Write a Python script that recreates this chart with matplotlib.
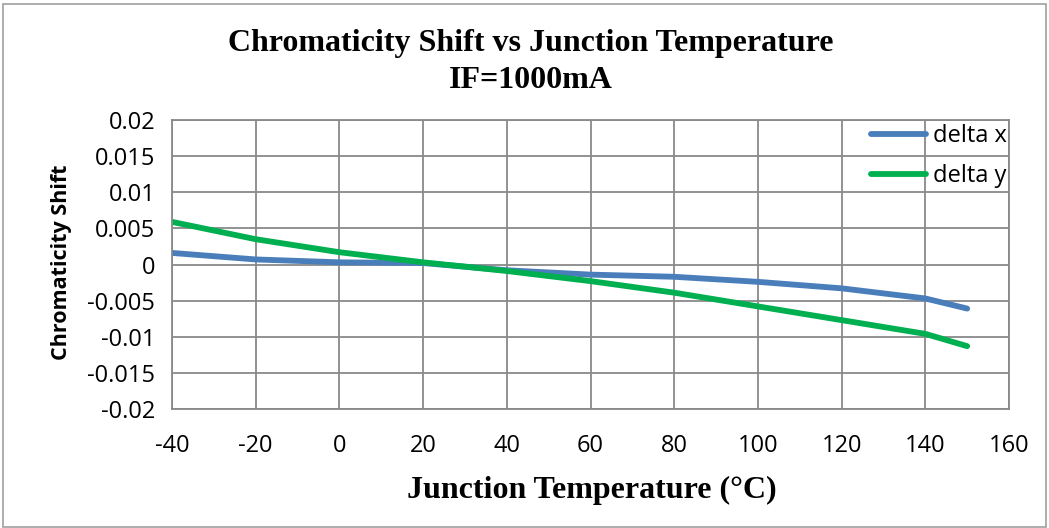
import matplotlib
matplotlib.use('Agg')
import matplotlib.pyplot as plt
from matplotlib.patches import Rectangle

plt.rcParams['axes.unicode_minus'] = False

# Junction temperature (°C) and chromaticity shift
temp = [-40, -20, 0, 20, 40, 60, 80, 100, 120, 140, 150]
delta_x = [0.0016, 0.0007, 0.0003, 0.0002, -0.0008, -0.0014, -0.0017, -0.0024, -0.0033, -0.0047, -0.0061]
delta_y = [0.0059, 0.0035, 0.0017, 0.0003, -0.0009, -0.0023, -0.0039, -0.0058, -0.0077, -0.0096, -0.0113]

x_ticks = [-40, -20, 0, 20, 40, 60, 80, 100, 120, 140, 160]
y_ticks = [0.02, 0.015, 0.01, 0.005, 0, -0.005, -0.01, -0.015, -0.02]
y_tick_labels = ['0.02', '0.015', '0.01', '0.005', '0', '-0.005', '-0.01', '-0.015', '-0.02']

blue = '#4A7EBB'
green = '#00B050'
grid_gray = '#898989'

fig = plt.figure(figsize=(10.49, 5.28), dpi=100)
ax = fig.add_axes([172 / 1049, 1 - 409 / 528, (1009 - 172) / 1049, (409 - 120) / 528])

ax.plot(temp, delta_x, color=blue, lw=4.2, label='delta x', solid_capstyle='round')
ax.plot(temp, delta_y, color=green, lw=4.2, label='delta y', solid_capstyle='round')

ax.set_xlim(-40, 160)
ax.set_ylim(-0.02, 0.02)
ax.set_xticks(x_ticks)
ax.set_yticks(y_ticks)
ax.set_yticklabels(y_tick_labels)
ax.tick_params(length=0, labelsize=17)
ax.tick_params(axis='y', pad=12)
ax.tick_params(axis='x', pad=18)
for lbl in ax.get_xticklabels() + ax.get_yticklabels():
    lbl.set_family('Open Sans')

ax.grid(True, color=grid_gray, lw=1.3)
ax.set_axisbelow(True)
for s in ax.spines.values():
    s.set_color(grid_gray)
    s.set_linewidth(1.3)

# titles and axis labels
fig.text(531 / 1049, 1 - 44 / 528, 'Chromaticity Shift vs Junction Temperature',
         ha='center', va='center', fontsize=23, fontweight='bold', family='Liberation Serif')
fig.text(531 / 1049, 1 - 80 / 528, 'IF=1000mA',
         ha='center', va='center', fontsize=23, fontweight='bold', family='Liberation Serif')
fig.text(592 / 1049, 1 - 490 / 528, 'Junction Temperature (°C)',
         ha='center', va='center', fontsize=23, fontweight='bold', family='Liberation Serif')
fig.text(62 / 1049, 1 - 262 / 528, 'Chromaticity Shift', rotation=90,
         ha='center', va='center', fontsize=15.5, fontweight='bold', family='Open Sans')

leg = ax.legend(loc='upper right', bbox_to_anchor=(1.0, 0.995), frameon=False,
                handlelength=2.3, borderaxespad=0.0, borderpad=0.1,
                labelspacing=0.7, handletextpad=0.3,
                prop={'family': 'Open Sans', 'size': 17})

# light outer border of the chart area
fig.patches.append(Rectangle((3 / 1049, 0.002), 1 - 6 / 1049, 1 - 5 / 528,
                             transform=fig.transFigure, fill=False,
                             edgecolor='#A0A0A0', lw=1.2))

fig.savefig('out.png', dpi=100)
